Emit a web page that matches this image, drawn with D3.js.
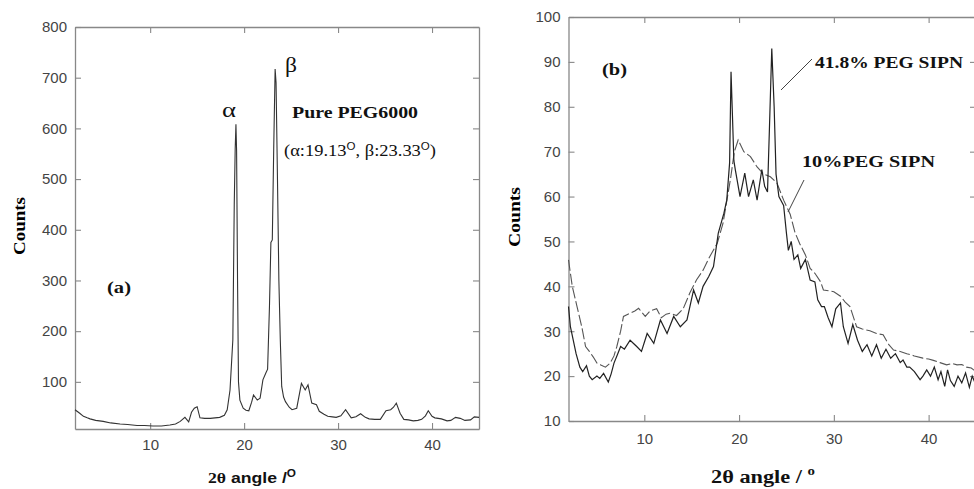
<!DOCTYPE html>
<html><head><meta charset="utf-8">
<script src="https://cdn.jsdelivr.net/npm/d3@7"></script>
<style>body{margin:0;background:#fff;overflow:hidden}svg{display:block}</style>
</head><body>
<script>
// ---------- DATA ----------
// Panel (a): Pure PEG6000
const pegX = [2.0,2.5,2.9,3.3,3.6,4.2,5.0,5.8,6.8,7.6,8.6,9.4,10.3,11.2,12.1,12.7,13.2,13.7,14.1,14.4,14.7,15.0,15.3,15.8,16.4,16.9,17.4,17.9,18.2,18.5,18.8,18.95,19.05,19.13,19.2,19.3,19.4,19.55,19.9,20.2,20.5,20.8,21.0,21.4,21.7,22.0,22.3,22.5,22.7,22.85,23.0,23.15,23.3,23.4,23.55,23.7,23.85,24.0,24.2,24.4,24.8,25.1,25.6,26.1,26.5,26.8,27.2,27.7,28.0,28.5,28.9,29.4,29.8,30.3,30.8,31.4,31.9,32.4,32.9,33.3,33.9,34.5,35.1,35.6,35.9,36.2,36.6,37.0,37.5,38.0,38.5,38.9,39.3,39.6,40.0,40.3,41.0,41.6,42.0,42.5,43.0,43.5,44.1,44.5,45.0];
const pegY = [45,38,32,29,27,24,22,19,17,16,14,14,13,13,15,17,22,30,21,40,48,51,29,28,28,29,30,34,45,84,183,450,560,608,555,300,100,64,48,44,43,60,74,64,68,104,117,125,250,375,380,560,717,690,500,300,183,91,70,61,50,45,48,97,84,94,58,55,42,36,32,31,30,33,45,29,31,37,30,27,26,26,43,45,50,58,38,26,25,23,24,26,33,43,32,29,27,23,24,30,28,24,25,31,30];
const aTicksX = [10,20,30,40];
const aTicksY = [100,200,300,400,500,600,700,800];

// Panel (b): 41.8% PEG SIPN (solid) and 10% PEG SIPN (dashed)
const sipn418X = [2.0,2.2,2.5,2.8,3.2,3.5,3.9,4.2,4.5,5.0,5.3,5.7,6.2,6.5,6.8,7.2,7.5,7.9,8.5,9.2,9.7,10.3,11.0,11.7,12.4,13.1,13.8,14.5,15.2,15.7,16.2,16.8,17.3,17.8,18.4,18.7,19.0,19.15,19.3,19.45,19.6,20.1,20.6,21.0,21.5,21.9,22.4,22.7,23.0,23.2,23.45,23.7,23.9,24.2,24.7,25.0,25.2,25.5,25.8,26.2,26.5,27.0,27.5,28.0,28.3,28.7,29.0,29.4,29.8,30.2,30.7,31.0,31.5,32.0,32.5,33.0,33.5,34.0,34.5,35.0,35.5,36.0,36.5,37.0,37.3,37.7,38.0,38.5,39.1,39.4,39.8,40.2,40.6,41.0,41.3,41.7,42.0,42.3,42.7,43.1,43.5,43.9,44.3,44.6,45.0];
const sipn418Y = [35.5,31,28,25,22,21,22.3,20,19.2,20,19.5,20.6,18.7,20.5,22.9,25,26.6,26,28,26.6,25.5,29.5,27.3,32.5,29.5,33.3,31,32.5,39.2,36.3,40,42.2,44.4,51.8,56.3,59.2,67.5,87.8,78,68,66,60,65.2,60,63.7,59.2,66,62.3,61,75,93,80,65,60,58,51.8,48,50,46,47,44,46,41.4,41,37,35.5,35.5,33,31,35,36.3,31,27.3,31.5,28,25.5,27,24.5,27,24,26,24,25,23,23.6,22,22,21,19.2,20,21.4,20,22,19.2,21,17.7,21.4,19,17.7,20,18.5,20.7,17.5,20,18];
const sipn10X = [2.0,2.4,2.9,3.4,3.8,4.2,4.6,5.0,5.4,5.9,6.4,6.8,7.1,7.5,7.8,8.5,9.0,9.4,10.1,10.6,11.3,11.8,12.3,12.7,13.4,14.1,14.8,15.5,16.2,16.9,17.7,18.3,19.1,19.5,19.9,20.5,21.2,21.9,22.6,23.3,24.0,24.7,25.4,25.9,26.4,27.0,27.5,28.0,28.6,28.9,29.5,30.0,30.7,31.2,31.7,32.4,33.0,33.8,34.5,35.2,35.8,36.3,37.0,37.7,38.5,39.4,40.0,40.5,41.2,41.9,42.5,43.0,43.5,44.0,44.5,45.0];
const sipn10Y = [45.9,40,35.5,31,26.6,25.5,24.3,22.9,22.5,22,22.9,24.5,26.6,30,33.3,34,34.5,35.1,33.3,34.5,35,33,33.8,34,33.5,35,38.5,41.4,43.6,46.6,49.6,54,64,70,72.6,70,68.9,66.6,65,64.4,63,59.2,56,52,49.5,47,44,42.9,41,39.2,39,38.8,37.8,36.5,35.5,31,30.5,30.1,29.5,29.2,27,25.8,25.5,25,24.5,24,23.8,23.5,23,22.5,22.8,22.5,22.6,22,21.8,21];
const bTicksX = [10,20,30,40];
const bTicksY = [10,20,30,40,50,60,70,80,90,100];

// ---------- DRAW ----------
const W = 974, H = 489;
const svg = d3.select("body").append("svg").attr("width", W).attr("height", H);
const axisColor = "#888";
const tickFont = "'Liberation Sans', Arial, sans-serif";
const serif = "'Liberation Serif', 'Times New Roman', serif";

function frame(g, x, y, xt, yt, padX, padY) {
  const [x0, x1] = x.range(), [y0, y1] = y.range();
  const style = sel => {
    sel.select(".domain").attr("stroke", axisColor).attr("stroke-width", 1.3);
    sel.selectAll(".tick line").attr("stroke", axisColor).attr("stroke-width", 1.1);
    sel.selectAll(".tick text").attr("fill", "#444").style("font-family", tickFont).style("font-size", "15px");
  };
  g.append("g").attr("transform", `translate(0,${y0})`)
    .call(d3.axisBottom(x).tickValues(xt).tickSize(-6).tickPadding(padX).tickSizeOuter(0)).call(style);
  g.append("g").attr("transform", `translate(0,${y1})`)
    .call(d3.axisTop(x).tickValues(xt).tickSize(-6).tickFormat("").tickSizeOuter(0)).call(style);
  g.append("g").attr("transform", `translate(${x0},0)`)
    .call(d3.axisLeft(y).tickValues(yt).tickSize(-6).tickPadding(padY).tickSizeOuter(0)).call(style);
  g.append("g").attr("transform", `translate(${x1},0)`)
    .call(d3.axisRight(y).tickValues(yt).tickSize(-6).tickFormat("").tickSizeOuter(0)).call(style);
}

function label(g, x, y, txt, size, len, opts = {}) {
  const t = g.append("text").attr("x", x).attr("y", y)
    .style("font-family", opts.family || serif).style("font-size", size + "px")
    .style("font-weight", opts.weight || "bold").attr("fill", "#111");
  if (len) t.attr("textLength", len).attr("lengthAdjust", "spacingAndGlyphs");
  if (txt) t.text(txt);
  return t;
}

// Panel (a)
const ga = svg.append("g");
const xa = d3.scaleLinear().domain([2, 45]).range([75, 479]);
const ya = d3.scaleLinear().domain([7, 800]).range([429, 27]);
frame(ga, xa, ya, aTicksX, aTicksY, 10, 8);
const lineA = d3.line().x(d => xa(d[0])).y(d => ya(d[1]));
ga.append("path").datum(d3.zip(pegX, pegY)).attr("d", lineA)
  .attr("fill", "none").attr("stroke", "#333").attr("stroke-width", 1.1);

label(ga, 222, 117, "α", 20, 14, {weight: "normal"});
label(ga, 285, 72, "β", 20, 12, {weight: "normal"});
label(ga, 292, 118, "Pure PEG6000", 16, 126);
const t2 = label(ga, 284, 156, null, 16, 152, {weight: "normal"});
t2.append("tspan").text("(α:19.13");
t2.append("tspan").attr("dy", -6).style("font-size", "10px").style("font-family", tickFont).text("O");
t2.append("tspan").attr("dy", 6).text(", β:23.33");
t2.append("tspan").attr("dy", -6).style("font-size", "10px").style("font-family", tickFont).text("O");
t2.append("tspan").attr("dy", 6).text(")");
label(ga, 107, 293, "(a)", 17, 24);
ga.append("text").attr("transform", "translate(25,226) rotate(-90)").attr("text-anchor", "middle")
  .style("font-family", serif).style("font-size", "17px").style("font-weight", "bold")
  .attr("textLength", 58).attr("lengthAdjust", "spacingAndGlyphs").text("Counts");
const xla = label(ga, 208, 483, null, 15, 88, {family: tickFont});
xla.append("tspan").style("font-family", serif).text("2θ");
xla.append("tspan").text("  angle /");
xla.append("tspan").attr("dy", -6).style("font-size", "10px").text("O");

// Panel (b)
const gb = svg.append("g");
const xb = d3.scaleLinear().domain([2, 45]).range([568.5, 976]);
const yb = d3.scaleLinear().domain([10, 100]).range([421, 17]);
frame(gb, xb, yb, bTicksX, bTicksY, 12, 8);
const lineB = d3.line().x(d => xb(d[0])).y(d => yb(d[1]));
gb.append("path").datum(d3.zip(sipn10X, sipn10Y)).attr("d", lineB)
  .attr("fill", "none").attr("stroke", "#555").attr("stroke-width", 1.1).attr("stroke-dasharray", "11,3");
gb.append("path").datum(d3.zip(sipn418X, sipn418Y)).attr("d", lineB)
  .attr("fill", "none").attr("stroke", "#222").attr("stroke-width", 1.2);

label(gb, 602, 75, "(b)", 17, 25);
label(gb, 815, 68, "41.8% PEG SIPN", 17, 148);
gb.append("line").attr("x1", 812).attr("y1", 59).attr("x2", 781).attr("y2", 90).attr("stroke", "#444");
label(gb, 802, 167, "10%PEG SIPN", 17, 133);
gb.append("line").attr("x1", 804).attr("y1", 180).attr("x2", 788).attr("y2", 212).attr("stroke", "#444");
gb.append("text").attr("transform", "translate(520,217) rotate(-90)").attr("text-anchor", "middle")
  .style("font-family", serif).style("font-size", "17px").style("font-weight", "bold")
  .attr("textLength", 60).attr("lengthAdjust", "spacingAndGlyphs").text("Counts");
const xlb = label(gb, 711, 483, null, 18, 104);
xlb.append("tspan").text("2θ angle / ");
xlb.append("tspan").attr("dy", -8).style("font-size", "12px").text("o");
</script>
</body></html>
